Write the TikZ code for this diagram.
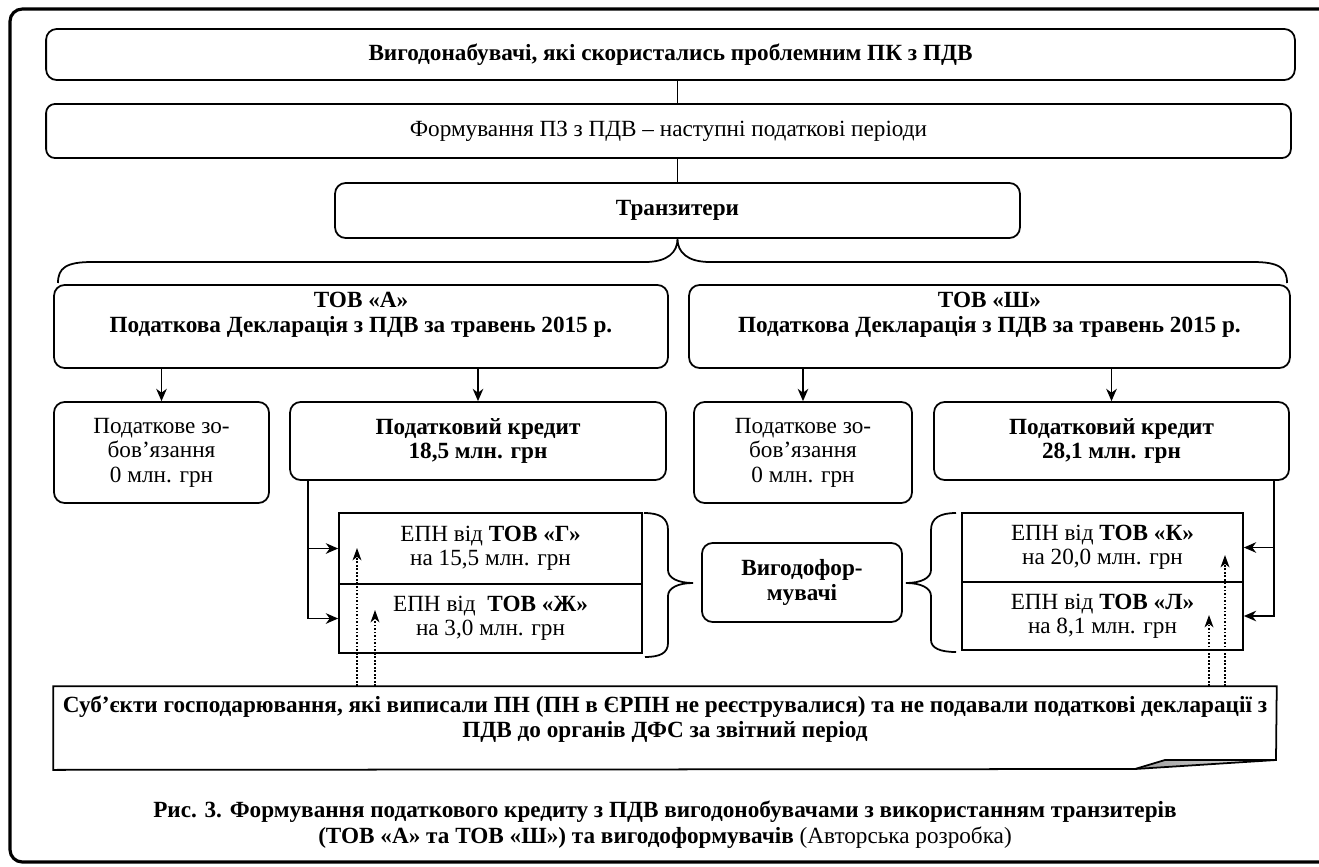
\documentclass[tikz,border=0pt]{standalone}
\usepackage{fontspec}
\setmainfont{Liberation Serif}
\usepackage{tikz}
\usetikzlibrary{arrows.meta}
\newcommand{\diagfont}{\fontsize{13.2}{13.9}\selectfont}
\tikzset{
    Box/.style = {draw=black, rounded corners=6pt, align=center, line width=1pt, inner sep=0pt, font=\diagfont},
    BoxB/.style = {Box, font=\diagfont\bfseries},
    Sharp/.style = {draw=black, align=center, line width=1pt, inner sep=0pt, font=\diagfont}
}
\tikzset{
    Edge/.style = {draw=black,line width=1pt,-{Stealth[length=7pt,width=6pt,inset=2.2pt]}},
    Line/.style = {draw=black,line width=1pt},
    Dots/.style = {draw=black,line width=1pt,densely dotted,-{Stealth[length=7pt,width=5pt,inset=2pt]}}
}

\begin{document}
\begin{tikzpicture}[
    x=0.02cm, y=-0.02cm,
    line width=1pt,
    font=\diagfont
]
\useasboundingbox (0,0) rectangle (1319,866);
\draw[line width=1.8pt, rounded corners=7pt] (10,9) rectangle (1345,862);

\node[BoxB, minimum width=24.98cm, minimum height=1.02cm] at (670.5,54.5) (benef) {Вигодонабувачі, які скористались проблемним ПК з ПДВ};
\node[Box, minimum width=24.9cm, minimum height=1.08cm, rounded corners=5pt] at (668.5,131) (pzform) {Формування ПЗ з ПДВ – наступні податкові періоди};
\node[BoxB, minimum width=13.7cm, minimum height=1.1cm] at (677.5,210.5) (transit) {Транзитери};

\node[Box, minimum width=12.28cm, minimum height=1.66cm] at (361,326.5) (tovA) {};
\node[align=center, font=\diagfont\bfseries] at (361,315) (tovAtxt) {ТОВ «А»\\Податкова Декларація з ПДВ за травень 2015 р.};
\node[Box, minimum width=12.02cm, minimum height=1.66cm] at (989.5,326.5) (tovSh) {};
\node[align=center, font=\diagfont\bfseries] at (989.5,315) (tovShtxt) {ТОВ «Ш»\\Податкова Декларація з ПДВ за травень 2015 р.};

\node[Box, minimum width=4.3cm, minimum height=2.02cm] at (161.5,452.5) (zobA) {Податкове зо-\\бов’язання\\0 млн. грн};
\node[BoxB, minimum width=7.52cm, minimum height=1.56cm] at (478,441) (credA) {Податковий кредит\\18,5 млн. грн};
\node[Box, minimum width=4.36cm, minimum height=2.02cm] at (803,452.5) (zobSh) {Податкове зо-\\бов’язання\\0 млн. грн};
\node[BoxB, minimum width=7.1cm, minimum height=1.56cm] at (1111.5,441) (credSh) {Податковий кредит\\28,1 млн. грн};

\node[Sharp, minimum width=6.06cm, minimum height=1.42cm] at (490.5,548.5) (epnG) {ЕПН від \textbf{ТОВ «Г»}\\на 15,5 млн. грн};
\node[Sharp, minimum width=6.06cm, minimum height=1.38cm] at (490.5,618.5) (epnZh) {ЕПН від~ \textbf{ТОВ «Ж»}\\на 3,0 млн. грн};
\node[Sharp, minimum width=5.62cm, minimum height=1.38cm] at (1102.5,547.5) (epnK) {ЕПН від \textbf{ТОВ «К»}\\на 20,0 млн. грн};
\node[Sharp, minimum width=5.62cm, minimum height=1.36cm] at (1102.5,616) (epnL) {ЕПН від \textbf{ТОВ «Л»}\\на 8,1 млн. грн};
\node[BoxB, minimum width=4cm, minimum height=1.58cm] at (802,582.5) (vygod) {Вигодофор-\\мувачі};

\node[minimum width=24.44cm, minimum height=1.64cm, inner sep=0pt] at (665,728) (notebox) {};
\node[align=center, font=\diagfont\bfseries] at (665,719) (notetxt) {Суб’єкти господарювання, які виписали ПН (ПН в ЄРПН не реєструвалися) та не подавали податкові декларації з\\ПДВ до органів ДФС за звітний період};

\node[align=center, font=\fontsize{13.2}{14.7}\selectfont] at (665,825) (caption) {\textbf{Рис. 3. Формування податкового кредиту з ПДВ вигодонобувачами з використанням транзитерів}\\\textbf{(ТОВ «А» та ТОВ «Ш») та вигодоформувачів} (Авторська розробка)};

% vertical links
\path (benef.south -| transit.north) edge [Line] (pzform.north -| transit.north);
\path (pzform.south -| transit.north) edge [Line] (transit.north);

% brace under transit
\draw (58,283) .. controls (58,268) and (66,262) .. (92,262) -- (645,262) .. controls (668,262) and (677.5,252) .. (transit.south) .. controls (677.5,252) and (687,262) .. (710,262) -- (1253,262) .. controls (1279,262) and (1287,268) .. (1287,283);

\path (tovA.south -| zobA.north) edge [Edge] (zobA.north);
\path (tovA.south -| credA.north) edge [Edge] (credA.north);
\path (tovSh.south -| zobSh.north) edge [Edge] (zobSh.north);
\path (tovSh.south -| credSh.north) edge [Edge] (credSh.north);

\draw[Edge] (credA.south west) ++(19,0) |- (epnG.west);
\draw[Edge] (credA.south west) ++(19,0) |- (epnZh.west);
\draw[Edge] (credSh.south east) ++(-16,0) |- (epnK.east);
\draw[Edge] (credSh.south east) ++(-16,0) |- (epnL.east);

% braces round vygodo
\draw (644,513) .. controls (660,513) and (668,518) .. (668,530) -- (668,570) .. controls (668,578) and (678,583) .. (693,583) .. controls (678,583) and (668,588) .. (668,596) -- (668,643) .. controls (668,653) and (660,657) .. (645,657);
\draw (956,513) .. controls (940,513) and (931,518) .. (931,530) -- (931,570) .. controls (931,578) and (921,583) .. (906,583) .. controls (921,583) and (931,588) .. (931,596) -- (931,640) .. controls (931,648) and (940,652) .. (956,652);

% note box with curled corner
\shade[left color=gray!80, right color=gray!15] (1135,769) -- (1165,760) -- (1276,760) -- cycle;
\draw (notebox.north west) -- (notebox.north east) -- (1276,760) -- (1135,769) -- (notebox.south west) -- cycle;
\draw (1135,769) -- (1165,760) -- (1276,760);

\coordinate (tipG) at (357,548);
\coordinate (tipZh) at (375,610);
\coordinate (tipK) at (1225,555);
\coordinate (tipL) at (1209,615);
\path (notebox.north -| tipG) edge [Dots] (tipG);
\path (notebox.north -| tipZh) edge [Dots] (tipZh);
\path (notebox.north -| tipK) edge [Dots] (tipK);
\path (notebox.north -| tipL) edge [Dots] (tipL);
\end{tikzpicture}
\end{document}
